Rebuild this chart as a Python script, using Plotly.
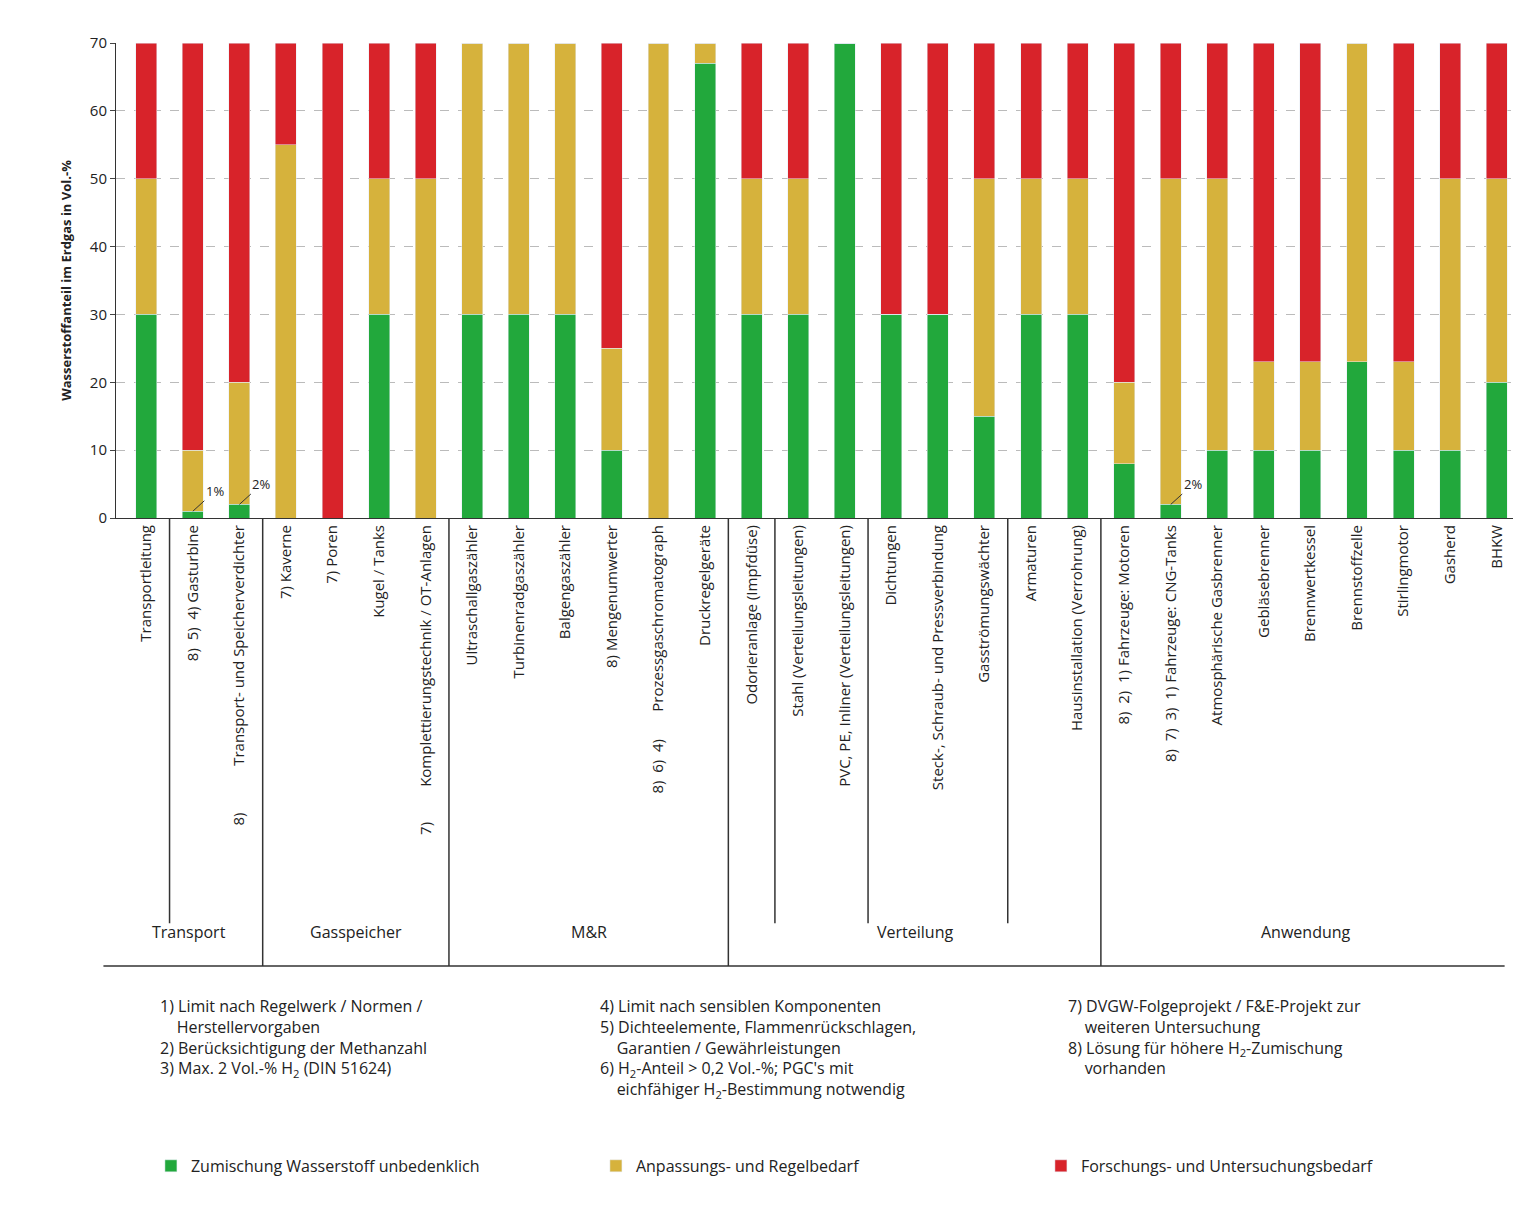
# Import required modules
import plotly.graph_objs as go  # For plotting objects

# Categories (tick labels incl. footnote markers, read bottom-up)
categories = ['Transportleitung', '8)  5)  4) Gasturbine', '8)            Transport- und Speicherverdichter',
              '7) Kaverne', '7) Poren', 'Kugel / Tanks', '7)         Komplettierungstechnik / OT-Anlagen',
              'Ultraschallgaszähler', 'Turbinenradgaszähler', 'Balgengaszähler', '8) Mengenumwerter',
              '8)  6)  4)       Prozessgaschromatograph', 'Druckregelgeräte', 'Odorieranlage (Impfdüse)',
              'Stahl (Verteilungsleitungen)', 'PVC, PE, Inliner (Verteilungsleitungen)', 'Dichtungen',
              'Steck-, Schraub- und Pressverbindung', 'Gasströmungswächter', 'Armaturen',
              'Hausinstallation (Verrohrung)', '8)  2)  1) Fahrzeuge: Motoren',
              '8)  7)  3)  1) Fahrzeuge: CNG-Tanks', 'Atmosphärische Gasbrenner', 'Gebläsebrenner',
              'Brennwertkessel', 'Brennstoffzelle', 'Stirlingmotor', 'Gasherd', 'BHKW']

# Series values (Vol.-% H2, stacked)
green = [30, 1, 2, 0, 0, 30, 0, 30, 30, 30, 10, 0, 67, 30, 30, 70, 30, 30, 15, 30, 30,
         8, 2, 10, 10, 10, 23, 10, 10, 20]
yellow = [20, 9, 18, 55, 0, 20, 50, 40, 40, 40, 15, 70, 3, 20, 20, 0, 0, 0, 35, 20, 20,
          12, 48, 40, 13, 13, 47, 13, 40, 30]
red = [20, 60, 50, 15, 70, 20, 20, 0, 0, 0, 45, 0, 0, 20, 20, 0, 40, 40, 20, 20, 20,
       50, 20, 20, 47, 47, 0, 47, 20, 20]

series_names = ['Zumischung Wasserstoff unbedenklich', 'Anpassungs- und Regelbedarf',
                'Forschungs- und Untersuchungsbedarf']
colors = ['#22a83c', '#d6b23c', '#d8232a']

# Groups below the axis
groups = ['Transport', 'Gasspeicher', 'M&R', 'Verteilung', 'Anwendung']
group_centers = [0.925, 4.5, 9.5, 16.5, 24.9]
group_bounds = [2.5, 6.5, 12.5, 20.5]
minor_bounds = [0.5, 13.5, 15.5, 18.5]

footnotes = [
    '1) Limit nach Regelwerk / Normen /<br>    Herstellervorgaben<br>2) Berücksichtigung der Methanzahl<br>3) Max. 2 Vol.-% H<sub>2</sub> (DIN 51624)',
    '4) Limit nach sensiblen Komponenten<br>5) Dichteelemente, Flammenrückschlagen,<br>    Garantien / Gewährleistungen<br>6) H<sub>2</sub>-Anteil > 0,2 Vol.-%; PGC\'s mit<br>    eichfähiger H<sub>2</sub>-Bestimmung notwendig',
    '7) DVGW-Folgeprojekt / F&E-Projekt zur<br>    weiteren Untersuchung<br>8) Lösung für höhere H<sub>2</sub>-Zumischung<br>    vorhanden',
]

x = list(range(len(categories)))

# Create the stacked bars
traces = [go.Bar(x=x, y=vals, name=name, marker_color=col, width=0.45)
          for vals, name, col in zip([green, yellow, red], series_names, colors)]
layout = go.Layout(
    barmode='stack', width=1521, height=1208,
    margin=dict(l=108, r=16, t=35, b=698, autoexpand=False),
    font=dict(family='Open Sans', size=15, color='#222'),
    plot_bgcolor='white', paper_bgcolor='white',
    xaxis=dict(tickmode='array', tickvals=x, ticktext=categories, tickangle=-90,
               range=[-0.65, 29.35], showline=True, linecolor='#333', ticks='', tickfont=dict(size=15)),
    yaxis=dict(range=[0, 70], dtick=10, gridcolor='#bbb', griddash='dash', ticks='outside',
               showline=True, linecolor='#333', tickfont=dict(size=15),
               title=dict(text='<b>Wasserstoffanteil im Erdgas in Vol.-%</b>', font=dict(size=13))),
    legend=dict(orientation='h', x=0.025, y=-1.364, xanchor='left', yanchor='middle',
                traceorder='normal', entrywidth=400, font=dict(size=16)),
)
fig = go.Figure(data=traces, layout=layout)

# Separators and group labels
for b in group_bounds:
    fig.add_shape(type='line', xref='x', yref='paper', x0=b, x1=b, y0=0, y1=-0.943,
                  line=dict(color='#333', width=1.5))
for b in minor_bounds:
    fig.add_shape(type='line', xref='x', yref='paper', x0=b, x1=b, y0=0, y1=-0.853,
                  line=dict(color='#333', width=1.5))
fig.add_shape(type='line', xref='paper', yref='paper', x0=-0.009, x1=0.994, y0=-0.943, y1=-0.943,
              line=dict(color='#333', width=1.5))
for g, c in zip(groups, group_centers):
    fig.add_annotation(x=c, y=-0.899, xref='x', yref='paper', text=g, showarrow=False, font=dict(size=16))

# Small percent labels
for xi, yi, txt in [(1, 1, '1%'), (2, 2, '2%'), (22, 2, '2%')]:
    fig.add_annotation(x=xi, y=yi, text=txt, showarrow=True, arrowhead=0, ax=22, ay=-20,
                       font=dict(size=13), arrowcolor='#333')

# Footnotes
for fx, txt in zip([0.03, 0.345, 0.68], footnotes):
    fig.add_annotation(x=fx, y=-1.0, xref='paper', yref='paper', text=txt, showarrow=False,
                       xanchor='left', yanchor='top', align='left', font=dict(size=16))

# Save the plot as an HTML file
fig.write_html('out.html')
